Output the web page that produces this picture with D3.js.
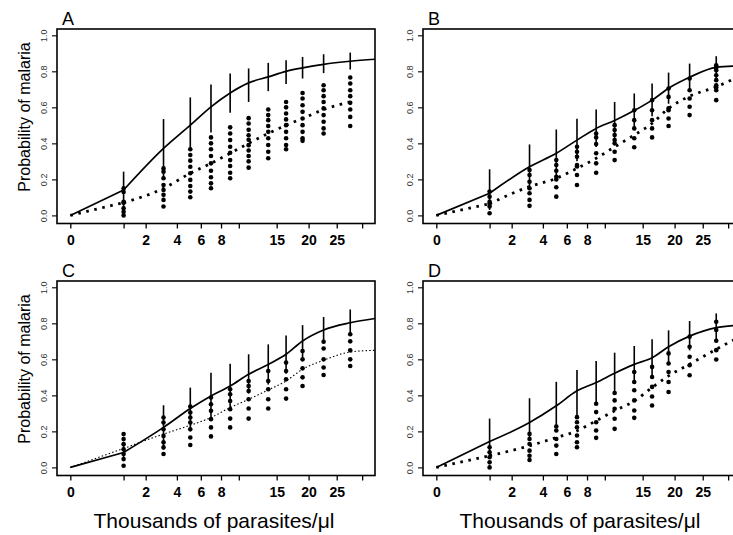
<!DOCTYPE html>
<html lang="en">
<head>
    <meta charset="UTF-8">
    <title>Probability of malaria</title>
    <script src="https://cdn.jsdelivr.net/npm/d3@7/dist/d3.min.js"></script>
    <style>
        body { margin: 0; background: #fff; }
        svg { display: block; }
    </style>
</head>
<body>
    <div class="chart"></div>
</body>
<script>
    // x positions of the groups (thousands of parasites/ul), drawn on a sqrt axis
    const groupX = [1, 3.06, 5.07, 6.97, 9, 11.2, 13.8, 16.4, 19, 22.6, 27.6]
    const xEnd = 32.7
    const fitX = [0, ...groupX, xEnd]

    const xTicks = [0, 1, 2, 4, 6, 8, 10, 15, 20, 25, 30]
    const xTickLabels = ['0', '', '2', '4', '6', '8', '', '15', '20', '25', '']
    const yTicks = [0, 0.2, 0.4, 0.6, 0.8, 1.0]
    const yTickLabels = ['0.0', '0.2', '0.4', '0.6', '0.8', '1.0']
    const panelNames = ['A', 'B', 'C', 'D']

    // panel A
    const fitA = [0, 0.141, 0.372, 0.501, 0.603, 0.680, 0.736, 0.769, 0.800, 0.819, 0.839, 0.856, 0.867]
    const loA = [0.04, 0.21, 0.36, 0.46, 0.57, 0.63, 0.69, 0.73, 0.76, 0.79, 0.81]
    const hiA = [0.243, 0.535, 0.655, 0.727, 0.788, 0.816, 0.847, 0.861, 0.880, 0.895, 0.904]
    const obsA = [0, 0.071, 0.150, 0.234, 0.289, 0.345, 0.400, 0.455, 0.501, 0.538, 0.588, 0.630]
    const ptsA = [
        [0.15, 0.13, 0.075, 0.07, 0.04, 0.02, 0.0],
        [0.261, 0.243, 0.206, 0.169, 0.141, 0.114, 0.086, 0.049],
        [0.367, 0.335, 0.304, 0.27, 0.234, 0.197, 0.163, 0.132, 0.101],
        [0.433, 0.40, 0.367, 0.33, 0.289, 0.248, 0.212, 0.178, 0.151],
        [0.489, 0.455, 0.418, 0.381, 0.348, 0.307, 0.274, 0.237, 0.206],
        [0.54, 0.51, 0.475, 0.445, 0.42, 0.39, 0.36, 0.33, 0.30, 0.265],
        [0.588, 0.557, 0.529, 0.496, 0.464, 0.428, 0.391, 0.353, 0.317],
        [0.63, 0.60, 0.566, 0.533, 0.501, 0.464, 0.428, 0.391, 0.367],
        [0.68, 0.649, 0.612, 0.575, 0.538, 0.501, 0.464, 0.428, 0.414],
        [0.723, 0.695, 0.662, 0.63, 0.594, 0.557, 0.52, 0.483, 0.455],
        [0.766, 0.732, 0.695, 0.662, 0.625, 0.588, 0.547, 0.496]
    ]

    // panel B
    const fitB = [0, 0.123, 0.270, 0.345, 0.418, 0.483, 0.527, 0.582, 0.640, 0.706, 0.767, 0.822, 0.830]
    const loB = [0.03, 0.14, 0.22, 0.30, 0.38, 0.43, 0.49, 0.55, 0.62, 0.695, 0.75]
    const hiB = [0.256, 0.394, 0.477, 0.536, 0.588, 0.630, 0.677, 0.732, 0.793, 0.843, 0.884]
    const obsB = [0, 0.065, 0.160, 0.206, 0.261, 0.317, 0.380, 0.446, 0.511, 0.594, 0.662, 0.714, 0.778]
    const ptsB = [
        [0.132, 0.104, 0.076, 0.065, 0.049, 0.012],
        [0.252, 0.224, 0.187, 0.151, 0.123, 0.086, 0.053],
        [0.307, 0.28, 0.248, 0.215, 0.20, 0.156, 0.104],
        [0.381, 0.353, 0.326, 0.28, 0.272, 0.224, 0.169],
        [0.455, 0.433, 0.396, 0.345, 0.289, 0.237],
        [0.501, 0.474, 0.446, 0.418, 0.40, 0.353, 0.307],
        [0.584, 0.529, 0.483, 0.428, 0.378],
        [0.64, 0.584, 0.529, 0.483, 0.433],
        [0.705, 0.658, 0.594, 0.584, 0.538, 0.496],
        [0.76, 0.695, 0.649, 0.603, 0.557],
        [0.834, 0.82, 0.806, 0.778, 0.751, 0.723, 0.71, 0.695, 0.64]
    ]

    // panel C
    const fitC = [0, 0.083, 0.222, 0.327, 0.397, 0.452, 0.517, 0.572, 0.628, 0.702, 0.763, 0.803, 0.827]
    const loC = [0.04, 0.10, 0.20, 0.28, 0.33, 0.41, 0.46, 0.52, 0.61, 0.69, 0.73]
    const hiC = [0.13, 0.345, 0.443, 0.526, 0.576, 0.628, 0.683, 0.733, 0.790, 0.835, 0.877]
    const obsC = [0, 0.105, 0.185, 0.234, 0.277, 0.332, 0.378, 0.430, 0.480, 0.545, 0.595, 0.641, 0.650]
    const ptsC = [
        [0.185, 0.157, 0.129, 0.101, 0.074, 0.046, 0.009],
        [0.277, 0.249, 0.212, 0.175, 0.139, 0.111, 0.074],
        [0.338, 0.305, 0.277, 0.249, 0.212, 0.166, 0.124],
        [0.388, 0.351, 0.314, 0.268, 0.222, 0.172],
        [0.434, 0.406, 0.369, 0.323, 0.271, 0.222],
        [0.48, 0.452, 0.424, 0.378, 0.327, 0.271],
        [0.535, 0.48, 0.434, 0.378, 0.327],
        [0.582, 0.535, 0.489, 0.434, 0.382],
        [0.646, 0.60, 0.55, 0.50, 0.452],
        [0.698, 0.66, 0.60, 0.555, 0.513],
        [0.739, 0.70, 0.65, 0.60, 0.563]
    ]

    // panel D
    const fitD = [0, 0.144, 0.249, 0.342, 0.425, 0.471, 0.523, 0.572, 0.609, 0.670, 0.729, 0.776, 0.790]
    const loD = [0.05, 0.15, 0.22, 0.28, 0.35, 0.41, 0.47, 0.51, 0.58, 0.65, 0.70]
    const hiD = [0.271, 0.384, 0.475, 0.541, 0.591, 0.637, 0.674, 0.711, 0.761, 0.813, 0.855]
    const obsD = [0, 0.065, 0.120, 0.166, 0.203, 0.259, 0.314, 0.369, 0.443, 0.508, 0.573, 0.656, 0.729]
    const ptsD = [
        [0.112, 0.084, 0.056, 0.028, 0.0],
        [0.186, 0.158, 0.13, 0.093, 0.065, 0.041],
        [0.227, 0.205, 0.158, 0.121, 0.074],
        [0.279, 0.251, 0.223, 0.177, 0.14, 0.112],
        [0.353, 0.307, 0.251, 0.205, 0.164],
        [0.413, 0.372, 0.326, 0.27, 0.214],
        [0.53, 0.474, 0.428, 0.372, 0.316, 0.275],
        [0.558, 0.502, 0.447, 0.394, 0.344],
        [0.633, 0.577, 0.53, 0.474, 0.419],
        [0.726, 0.67, 0.614, 0.567, 0.512],
        [0.809, 0.763, 0.703, 0.651, 0.599]
    ]

    const width = 733
    const height = 535
    const boxW = 318
    const boxH = 194.5
    const colX = [57, 423]
    const rowY = [29, 281]

    const panels = [
        { name: panelNames[0], fit: fitA, lo: loA, hi: hiA, obs: obsA, pts: ptsA, fine: false, col: 0, row: 0 },
        { name: panelNames[1], fit: fitB, lo: loB, hi: hiB, obs: obsB, pts: ptsB, fine: false, col: 1, row: 0 },
        { name: panelNames[2], fit: fitC, lo: loC, hi: hiC, obs: obsC, pts: ptsC, fine: true, col: 0, row: 1 },
        { name: panelNames[3], fit: fitD, lo: loD, hi: hiD, obs: obsD, pts: ptsD, fine: false, col: 1, row: 1 }
    ]

    const svg = d3.select('.chart')
        .append('svg')
        .attr('width', width)
        .attr('height', height)

    const xScale = d3.scaleSqrt().domain([-0.0625, xEnd]).range([0, boxW])
    const yScale = d3.scaleLinear().domain([-0.045, 1.035]).range([boxH, 0])

    const curve = d3.line()
        .x(d => xScale(d[0]))
        .y(d => yScale(d[1]))
        .curve(d3.curveMonotoneX)
    const straight = d3.line()
        .x(d => xScale(d[0]))
        .y(d => yScale(d[1]))

    // straight piece from zero to the first group, smooth after that
    function drawCurve(g, pts, stroke, dash) {
        [straight(pts.slice(0, 2)), curve(pts.slice(1))].forEach(d => {
            g.append('path')
                .attr('d', d)
                .attr('fill', 'none')
                .attr('stroke', '#000')
                .attr('stroke-width', stroke)
                .attr('stroke-dasharray', dash)
        })
    }

    panels.forEach(p => {
        const g = svg.append('g')
            .attr('transform', `translate(${colX[p.col]}, ${rowY[p.row]})`)

        // x axis
        const gx = g.append('g')
            .attr('transform', `translate(0, ${boxH})`)
            .call(d3.axisBottom(xScale)
                .tickValues(xTicks)
                .tickFormat((d, i) => xTickLabels[i])
                .tickSize(5)
                .tickPadding(7))
        gx.select('.domain').remove()
        gx.selectAll('line').attr('stroke', '#000').attr('stroke-width', 1.3)
        gx.selectAll('text')
            .attr('fill', '#000')
            .attr('font-family', '"Liberation Sans Narrow", "Arial Narrow", "Liberation Sans", sans-serif')
            .attr('font-weight', 'bold')
            .attr('font-size', '14px')

        // y axis with rotated labels
        const gy = g.append('g')
            .call(d3.axisLeft(yScale)
                .tickValues(yTicks)
                .tickFormat((d, i) => yTickLabels[i])
                .tickSize(5))
        gy.select('.domain').remove()
        gy.selectAll('line').attr('stroke', '#000').attr('stroke-width', 1.1)
        gy.selectAll('text')
            .attr('transform', 'rotate(-90)')
            .attr('x', 0)
            .attr('y', -10.5)
            .attr('dy', 0)
            .attr('text-anchor', 'middle')
            .attr('fill', '#333')
            .attr('font-family', '"Liberation Sans", Arial, sans-serif')
            .attr('font-size', '9px')

        // frame
        g.append('rect')
            .attr('width', boxW)
            .attr('height', boxH)
            .attr('fill', 'none')
            .attr('stroke', '#000')
            .attr('stroke-width', 1.6)

        // panel letter
        g.append('text')
            .attr('x', 5)
            .attr('y', -4)
            .attr('font-family', '"Liberation Sans Narrow", "Arial Narrow", "Liberation Sans", sans-serif')
            .attr('font-size', '18px')
            .attr('fill', '#000')
            .text(p.name)

        // dots of each group
        p.pts.forEach((col, i) => {
            g.selectAll(null)
                .data(col)
                .enter()
                .append('circle')
                .attr('cx', xScale(groupX[i]))
                .attr('cy', d => yScale(d))
                .attr('r', 2.3)
                .attr('fill', '#000')
        })

        // observed curve (dotted)
        drawCurve(g, p.obs.map((v, i) => [fitX[i], v]),
            p.fine ? 1.1 : 2.8, p.fine ? '1.5,2.2' : '2.6,5.6')

        // fitted curve
        drawCurve(g, p.fit.map((v, i) => [fitX[i], v]), 1.7, null)

        // error bars
        g.selectAll(null)
            .data(groupX)
            .enter()
            .append('line')
            .attr('x1', d => xScale(d))
            .attr('x2', d => xScale(d))
            .attr('y1', (d, i) => yScale(p.lo[i]))
            .attr('y2', (d, i) => yScale(p.hi[i]))
            .attr('stroke', '#000')
            .attr('stroke-width', 1.6)

        // axis titles
        if (p.col === 0) {
            g.append('text')
                .attr('transform', `translate(-27.5, 88) rotate(-90)`)
                .attr('text-anchor', 'middle')
                .attr('font-family', '"Liberation Sans", Arial, sans-serif')
                .attr('font-size', '16px')
                .attr('fill', '#000')
                .text('Probability of malaria')
        }
        if (p.row === 1) {
            g.append('text')
                .attr('x', boxW / 2 - 2)
                .attr('y', boxH + 52)
                .attr('text-anchor', 'middle')
                .attr('font-family', '"Liberation Sans", Arial, sans-serif')
                .attr('font-size', '21px')
                .attr('fill', '#000')
                .text('Thousands of parasites/\u03bcl')
        }
    })
</script>
</html>
